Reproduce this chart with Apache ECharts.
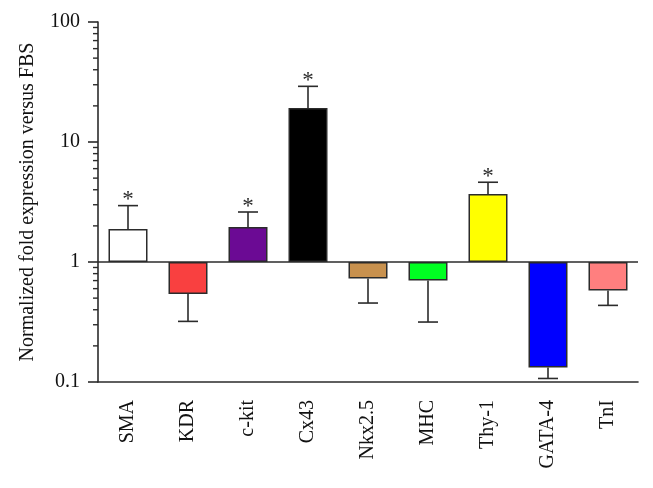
<!DOCTYPE html>
<html>
<head>
<meta charset="utf-8">
<script src="https://cdn.jsdelivr.net/npm/echarts@6/dist/echarts.min.js"></script>
<style>
  html, body { margin: 0; padding: 0; background: #fff; }
  #chart { width: 653px; height: 488px; }
</style>
</head>
<body>
<div id="chart"></div>
<script>
const categories = ['SMA', 'KDR', 'c-kit', 'Cx43', 'Nkx2.5', 'MHC', 'Thy-1', 'GATA-4', 'TnI'];
const foldValues = [1.88, 0.54, 1.96, 19.2, 0.73, 0.70, 3.69, 0.132, 0.58];
const errorEnds = [2.95, 0.32, 2.61, 29.1, 0.455, 0.316, 4.62, 0.107, 0.435];
const significant = [true, false, true, true, false, false, true, false, false];
const barColors = ['#ffffff', '#f94040', '#6b0a94', '#000000', '#c8914e', '#00ff22', '#ffff00', '#0000ff', '#ff7f7f'];
const minorTicks = [0.2, 0.3, 0.4, 0.5, 0.6, 0.7, 0.8, 0.9,
                    2, 3, 4, 5, 6, 7, 8, 9,
                    20, 30, 40, 50, 60, 70, 80, 90];

const ink = '#2b2b2b';
const serif = '"Liberation Serif", "DejaVu Serif", serif';

const option = {
  animation: false,
  backgroundColor: '#fff',
  grid: { left: 98, right: 15, top: 22, bottom: 106, containLabel: false, outerBoundsMode: 'none' },
  xAxis: {
    type: 'category',
    data: categories,
    axisLine: { lineStyle: { color: ink, width: 1.6 } },
    axisTick: { alignWithLabel: true, length: 9, lineStyle: { color: ink, width: 1.6 } },
    axisLabel: { rotate: 90, margin: 18, color: '#111', fontFamily: serif, fontSize: 20 },
    splitLine: { show: false }
  },
  yAxis: {
    type: 'log',
    logBase: 10,
    min: 0.1,
    max: 100,
    name: 'Normalized fold expression versus FBS',
    nameLocation: 'middle',
    nameRotate: 90,
    nameGap: 60,
    nameTextStyle: { color: '#111', fontFamily: serif, fontSize: 20 },
    axisLine: { show: true, lineStyle: { color: ink, width: 1.6 } },
    axisTick: { show: true, length: 10, lineStyle: { color: ink, width: 1.6 } },
    axisLabel: { margin: 18, color: '#111', fontFamily: serif, fontSize: 20 },
    splitLine: { show: false }
  },
  series: [
    {
      type: 'bar',
      barWidth: 39,
      data: foldValues.map((v, i) => ({
        value: v,
        itemStyle: { color: barColors[i], borderColor: ink, borderWidth: 1.5 }
      })),
      markLine: {
        silent: true,
        symbol: 'none',
        label: { show: false },
        lineStyle: { color: ink, width: 1.6, type: 'solid' },
        data: [{ yAxis: 1 }]
      }
    },
    {
      type: 'custom',
      z: 5,
      data: foldValues.map((v, i) => [i, v, errorEnds[i]]),
      encode: { x: 0, y: [1, 2] },
      renderItem: function (params, api) {
        const i = api.value(0);
        const base = api.coord([i, api.value(1)]);
        const end = api.coord([i, api.value(2)]);
        const style = { stroke: ink, lineWidth: 1.6 };
        const children = [
          { type: 'line', shape: { x1: base[0], y1: base[1], x2: end[0], y2: end[1] }, style: style },
          { type: 'line', shape: { x1: end[0] - 10, y1: end[1], x2: end[0] + 10, y2: end[1] }, style: style }
        ];
        if (significant[params.dataIndex]) {
          children.push({
            type: 'text',
            x: end[0],
            y: end[1] + 6,
            style: { text: '*', fill: ink, font: '23px ' + serif, align: 'center', verticalAlign: 'bottom' }
          });
        }
        return { type: 'group', children: children };
      }
    },
    {
      // minor ticks on the log axis
      type: 'custom',
      silent: true,
      data: minorTicks.map(v => [0, v]),
      encode: { x: 0, y: 1 },
      renderItem: function (params, api) {
        const p = api.coord([0, api.value(1)]);
        const x0 = params.coordSys.x;
        return {
          type: 'line',
          shape: { x1: x0 - 5, y1: p[1], x2: x0, y2: p[1] },
          style: { stroke: ink, lineWidth: 1.4 }
        };
      }
    }
  ]
};

const myChart = echarts.init(document.getElementById('chart'));
myChart.setOption(option);
</script>
</body>
</html>
